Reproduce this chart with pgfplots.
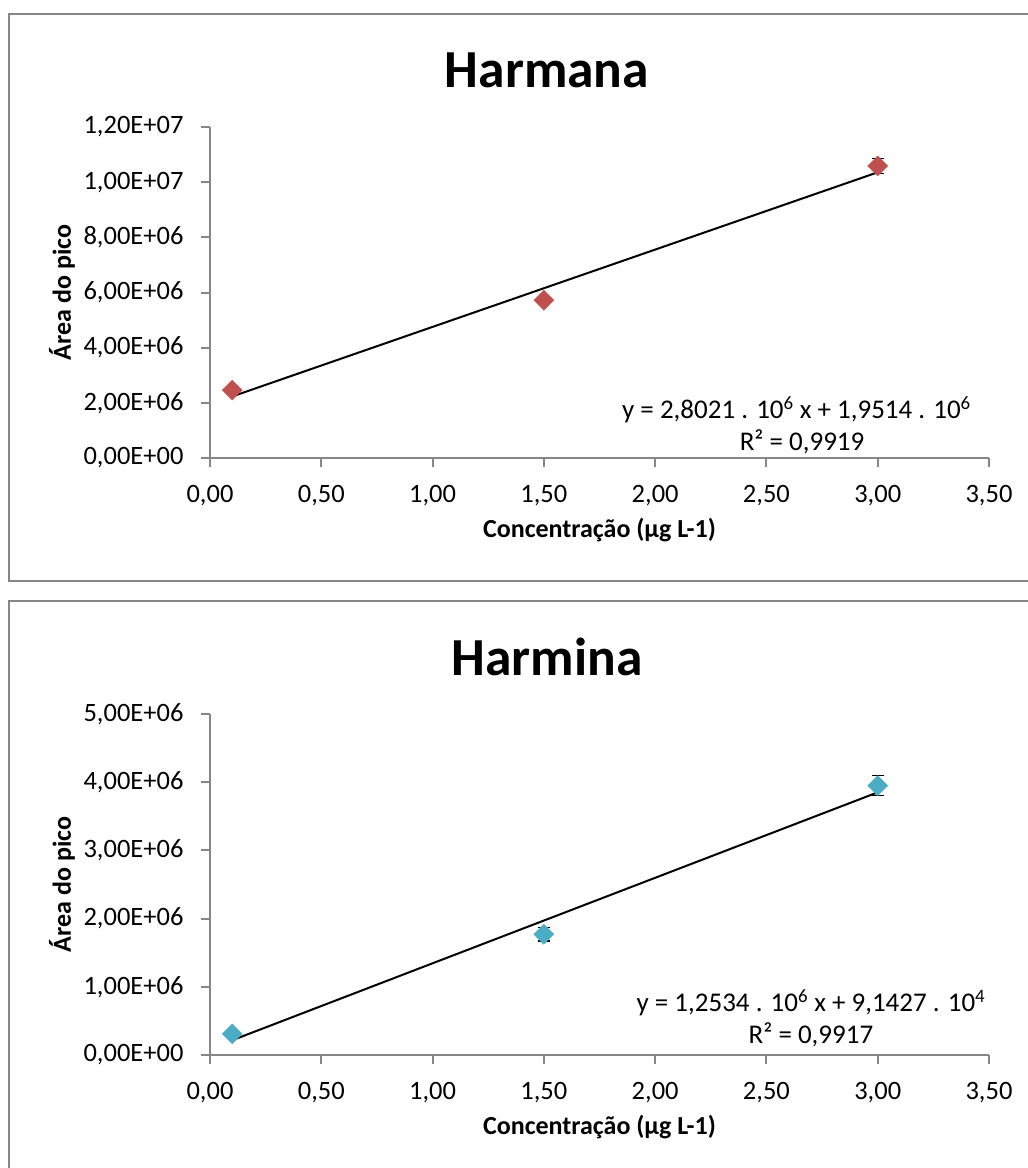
\documentclass[border=0pt]{standalone}
\usepackage{fontspec}
\setmainfont{Carlito}
\usepackage{pgfplots}
\pgfplotsset{compat=1.18}

\definecolor{axisgray}{HTML}{868686}
\definecolor{harmanared}{HTML}{C0504D}
\definecolor{harminablue}{HTML}{4BACC6}

\tikzset{eqn/.style={font=\fontsize{27}{32}\selectfont}}

\pgfplotsset{
  calib/.style={
    scale only axis, width=779pt,
    xmin=0, xmax=3.5,
    axis lines=left,
    axis line style={axisgray, line width=2pt, -},
    scaled y ticks=false,
    xtick={0,0.5,1,1.5,2,2.5,3,3.5},
    xticklabels={{0,00},{0,50},{1,00},{1,50},{2,00},{2,50},{3,00},{3,50}},
    tick style={axisgray, line width=2pt},
    tick align=outside, major tick length=9pt,
    ticklabel style={font=\fontsize{26.5}{31}\selectfont, text=black},
    xticklabel style={yshift=-15pt},
    yticklabel style={xshift=-14pt},
    xlabel={Concentração (µg L-1)},
    ylabel={Área do pico},
    xlabel style={font=\bfseries\fontsize{26}{30}\selectfont,
      at={([yshift=-72pt]axis description cs:0.5,0)}, anchor=center},
    ylabel style={font=\bfseries\fontsize{26}{30}\selectfont,
      at={([xshift=-148pt]axis description cs:0,0.5)}, anchor=center, rotate=0},
    clip=false,
    anchor=south west,
  },
  pts/.style={only marks, mark=square*, mark size=7.1pt,
    mark options={rotate=45, draw=#1, fill=#1},
    error bars/.cd, y dir=both, y explicit,
    error bar style={black, line width=1.5pt},
    error mark options={black, mark size=6pt, line width=1.5pt, rotate=90}},
  fit/.style={black, line width=2pt, no marks},
}

\begin{document}
\begin{tikzpicture}[x=1pt, y=1pt]
\begin{scope}
  \clip (0,0) rectangle (1028,-1168);
  % chart frames
  \draw[axisgray, line width=2pt] (9,-14) rectangle (1100,-581);
  \draw[axisgray, line width=2pt] (9,-601) rectangle (1100,-1200);
\end{scope}

% Harmana
\node[font=\bfseries\fontsize{53.5}{64}\selectfont] at (547,-70) {Harmana};
\begin{axis}[calib, at={(210pt,-458pt)}, height=331pt,
    ymin=0, ymax=1.2e7,
    ytick={0,2e6,4e6,6e6,8e6,1e7,1.2e7},
    yticklabels={{0,00E+00},{2,00E+06},{4,00E+06},{6,00E+06},{8,00E+06},{1,00E+07},{1,20E+07}}]
  \addplot[pts=harmanared] table[y error=e] {
    x    y        e
    0.1  2460000  60000
    1.5  5720000  80000
    3.0  10590000 270000
  };
  % y = 2,8021e6 x + 1,9514e6
  \addplot[fit] coordinates {(0.1,2231610) (3.0,10357700)};
  \node[eqn] at (axis cs:2.635,1.76e6)
    {y = 2,8021 . 10\textsuperscript{6} x + 1,9514 . 10\textsuperscript{6}};
  \node[eqn] at (axis cs:2.66,0.6e6)
    {R² = 0,9919};
\end{axis}

% Harmina
\node[font=\bfseries\fontsize{53.5}{64}\selectfont] at (547,-657) {Harmina};
\begin{axis}[calib, at={(210pt,-1055pt)}, height=341pt,
    ymin=0, ymax=5e6,
    ytick={0,1e6,2e6,3e6,4e6,5e6},
    yticklabels={{0,00E+00},{1,00E+06},{2,00E+06},{3,00E+06},{4,00E+06},{5,00E+06}}]
  \addplot[pts=harminablue] table[y error=e] {
    x    y        e
    0.1  310000   50000
    1.5  1770000  100000
    3.0  3950000  147000
  };
  % y = 1,2534e6 x + 9,1427e4
  \addplot[fit] coordinates {(0.1,216767) (3.0,3851627)};
  \node[eqn] at (axis cs:2.70,0.77e6)
    {y = 1,2534 . 10\textsuperscript{6} x + 9,1427 . 10\textsuperscript{4}};
  \node[eqn] at (axis cs:2.70,0.29e6)
    {R² = 0,9917};
\end{axis}

\pgfresetboundingbox
\useasboundingbox (0,0) rectangle (1028,-1168);
\end{tikzpicture}
\end{document}
